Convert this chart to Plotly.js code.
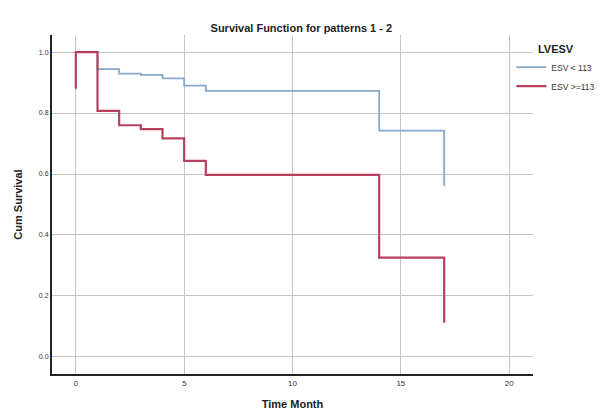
<!DOCTYPE html>
<html>
<head>
<meta charset="utf-8">
<script src="https://cdn.plot.ly/plotly-3.0.1.min.js"></script>
<style>html,body{margin:0;padding:0;background:#fff;}#chart{width:615px;height:415px;}</style>
</head>
<body>
<div id="chart"></div>
<script>
// Group: ESV < 113
const timeLow = [0, 1, 2, 3, 4, 5, 6, 14, 17];
const survLow = [1.0, 0.944, 0.929, 0.925, 0.914, 0.890, 0.873, 0.742, 0.561];
// Group: ESV >= 113
const timeHigh = [0, 0, 1, 2, 3, 4, 5, 6, 14, 17];
const survHigh = [0.88, 1.0, 0.807, 0.76, 0.747, 0.717, 0.643, 0.597, 0.326, 0.112];
const seriesNames = ["ESV < 113", "ESV >=113"];
const xTicks = [0, 5, 10, 15, 20];
const yTicks = [0.0, 0.2, 0.4, 0.6, 0.8, 1.0];
const yTickText = ["0.0", "0.2", "0.4", "0.6", "0.8", "1.0"];

const font = "Liberation Sans, Arial, sans-serif";
const traces = [
  {x: timeLow, y: survLow, name: seriesNames[0], mode: "lines",
   line: {shape: "hv", color: "#86a9cb", width: 1.8}},
  {x: timeHigh, y: survHigh, name: seriesNames[1], mode: "lines",
   line: {shape: "hv", color: "#b8405f", width: 2.2}}
];
const layout = {
  width: 615, height: 415,
  margin: {l: 52, r: 82, t: 35, b: 41, autoexpand: false},
  paper_bgcolor: "#fff", plot_bgcolor: "#fff",
  font: {family: font, color: "#222", size: 8},
  title: {text: "<b>Survival Function for patterns 1 - 2</b>", font: {size: 11, color: "#222"},
          x: 0.49, xanchor: "center", y: 0.932, yanchor: "middle"},
  xaxis: {range: [-1.1, 21.1], tickvals: xTicks, ticktext: xTicks.map(String),
          showgrid: true, gridcolor: "#c4c4c4", gridwidth: 1, zeroline: false,
          showline: true, linecolor: "#222", linewidth: 2, ticks: "",
          tickfont: {size: 8, color: "#333"}, ticklen: 0, automargin: false,
          title: {text: "<b>Time Month</b>", font: {size: 11, color: "#222"}, standoff: 14}},
  yaxis: {range: [-0.056, 1.056], tickvals: yTicks, ticktext: yTickText,
          showgrid: true, gridcolor: "#c4c4c4", gridwidth: 1, zeroline: false,
          showline: true, linecolor: "#222", linewidth: 2, ticks: "",
          tickfont: {size: 7, color: "#333"}, automargin: false,
          title: {text: "<b>Cum Survival</b>", font: {size: 11, color: "#222"}, standoff: 14}},
  legend: {x: 0.955, xanchor: "left", y: 0.99, yanchor: "top",
           bgcolor: "rgba(0,0,0,0)", font: {size: 8.5, color: "#333"},
           title: {text: "<b>LVESV</b>", font: {size: 11, color: "#222"}, side: "top center"},
           itemwidth: 30, tracegroupgap: 0},
  showlegend: true
};
Plotly.newPlot("chart", traces, layout, {displayModeBar: false, staticPlot: true});
</script>
</body>
</html>
